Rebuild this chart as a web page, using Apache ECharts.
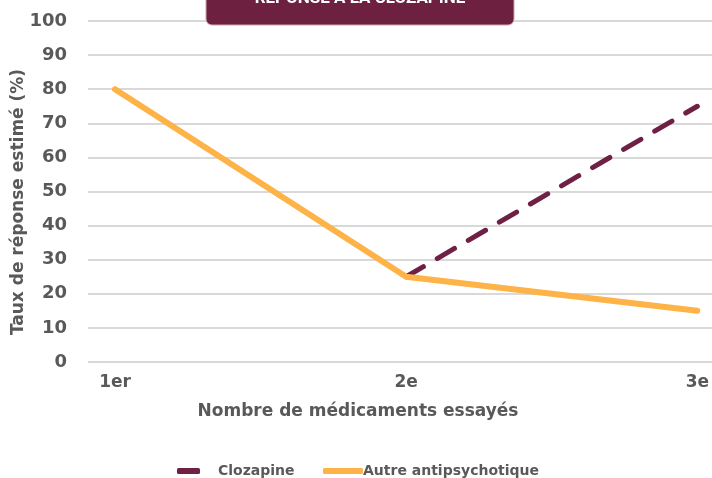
<!DOCTYPE html>
<html><head><meta charset="utf-8">
<script src="https://cdn.jsdelivr.net/npm/echarts@6/dist/echarts.min.js"></script>
<style>html,body{margin:0;padding:0;background:#fff}#c{width:712px;height:478px}</style>
</head><body><div id="c"></div>
<script>
const categories = ['1er', '2e', '3e'];
const clozapine = [null, 25, 75];
const autre = [80, 25, 15];
const yTicks = [0, 100, 10];
const FONT = 'DejaVu Sans';
const GRAY = '#595959';
const chart = echarts.init(document.getElementById('c'));
chart.setOption({
  animation: false,
  backgroundColor: '#fff',
  grid: [
    { left: 88, right: 0, top: 21, bottom: 116 },
    { left: 115, right: 12, top: 21, bottom: 116 }
  ],
  xAxis: [
    { type: 'category', gridIndex: 0, data: categories, show: false },
    { type: 'category', gridIndex: 1, data: categories, boundaryGap: false,
      axisLine: { show: false }, axisTick: { show: false },
      axisLabel: { color: GRAY, fontFamily: FONT, fontWeight: 'bold', fontSize: 17, margin: 12 } }
  ],
  yAxis: [
    { type: 'value', gridIndex: 0, min: yTicks[0], max: yTicks[1], interval: yTicks[2],
      axisLine: { show: false }, axisTick: { show: false },
      axisLabel: { color: GRAY, fontFamily: FONT, fontWeight: 'bold', fontSize: 18, margin: 21 },
      splitLine: { lineStyle: { color: '#d9d9d9', width: 2 } } },
    { type: 'value', gridIndex: 1, min: yTicks[0], max: yTicks[1], interval: yTicks[2], show: false,
      splitLine: { show: false } }
  ],
  legend: [
    { left: 172, top: 459, itemWidth: 23, itemHeight: 6,
      textStyle: { color: GRAY, fontFamily: FONT, fontWeight: 'bold', fontSize: 14, padding: [0, 0, 0, 13] },
      data: [{ name: 'Clozapine', icon: 'roundRect' }] },
    { left: 318, top: 459, itemWidth: 40, itemHeight: 6,
      textStyle: { color: GRAY, fontFamily: FONT, fontWeight: 'bold', fontSize: 14, padding: [0, 0, 0, -5] },
      data: [{ name: 'Autre antipsychotique', icon: 'roundRect' }] }
  ],
  graphic: [
    { type: 'rect', shape: { x: 206, y: -20, width: 308, height: 45, r: 6 },
      style: { fill: '#6e2040', stroke: '#c9a7b3', lineWidth: 1 }, z: 100 },
    { type: 'text', x: 360, y: 7, z: 101,
      style: { text: 'RÉPONSE À LA CLOZAPINE', fill: '#fff', font: 'bold 17px Roboto', align: 'center', verticalAlign: 'bottom' } },
    { type: 'text', x: 358, y: 412, z: 10,
      style: { text: 'Nombre de médicaments essayés', fill: GRAY, font: 'bold 17px ' + FONT, align: 'center', verticalAlign: 'middle' } },
    { type: 'text', x: 19, y: 202, rotation: Math.PI / 2, z: 10,
      style: { text: 'Taux de réponse estimé (%)', fill: GRAY, font: 'bold 17px ' + FONT, align: 'center', verticalAlign: 'middle' } }
  ],
  series: [
    { name: 'Clozapine', type: 'line', xAxisIndex: 1, yAxisIndex: 1, data: clozapine, symbol: 'none', z: 3,
      lineStyle: { color: '#6e2145', width: 5, type: [20, 16], cap: 'round' },
      itemStyle: { color: '#6e2145' } },
    { name: 'Autre antipsychotique', type: 'line', xAxisIndex: 1, yAxisIndex: 1, data: autre, symbol: 'none', z: 4,
      lineStyle: { color: '#fdb347', width: 6, cap: 'round', join: 'round' },
      itemStyle: { color: '#fdb347' } }
  ]
});
</script></body></html>
